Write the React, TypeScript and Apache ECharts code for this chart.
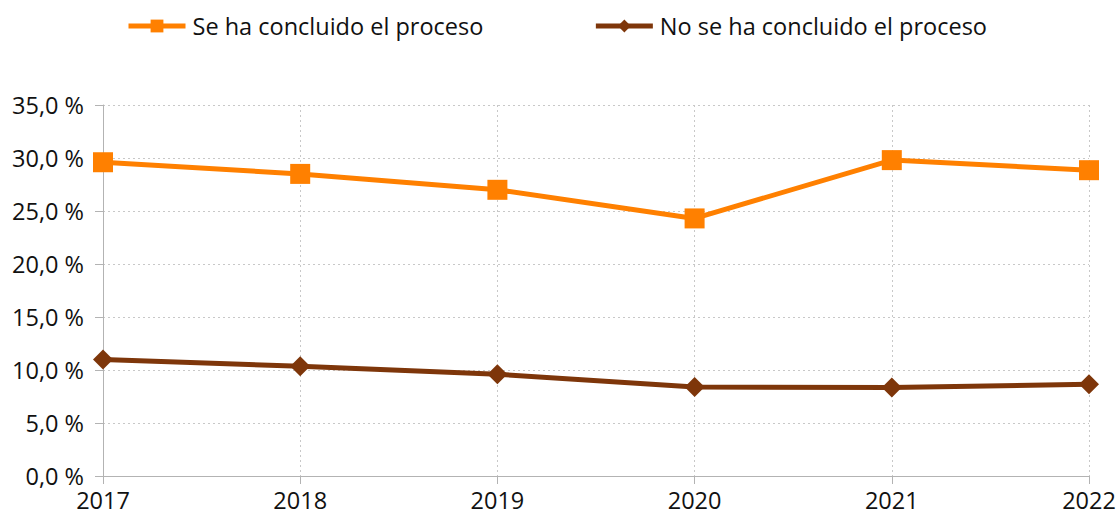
import React, { useEffect, useRef } from "react";
import * as echarts from "echarts";

const years = ["2017", "2018", "2019", "2020", "2021", "2022"];
const concluido = [29.6, 28.5, 27.0, 24.3, 29.8, 28.85];
const noConcluido = [11.0, 10.35, 9.6, 8.4, 8.35, 8.65];
const seriesNames = ["Se ha concluido el proceso", "No se ha concluido el proceso"];

const FONT = "'Open Sans', 'Noto Sans', sans-serif";

export default function App() {
  const ref = useRef<HTMLDivElement>(null);
  useEffect(() => {
    const chart = echarts.init(ref.current!, null, { renderer: "svg" });
    chart.setOption({
      animation: false,
      textStyle: { fontFamily: FONT },
      legend: {
        top: 9,
        left: 121,
        itemWidth: 57,
        itemHeight: 16,
        itemGap: 110,
        lineStyle: { width: 5 },
        textStyle: { fontSize: 23.5, color: "#111", fontFamily: FONT, padding: [0, 0, 0, 2] },
        data: seriesNames,
      },
      grid: { left: 103, right: 30, top: 105, bottom: 41, containLabel: false },
      xAxis: {
        type: "category",
        data: years,
        boundaryGap: false,
        axisLine: { lineStyle: { color: "#b3b3b3", width: 1 } },
        axisTick: { show: true, length: 8, lineStyle: { color: "#b3b3b3" } },
        axisLabel: { fontSize: 23.5, color: "#111", margin: 12, fontFamily: FONT },
        splitLine: { show: true, lineStyle: { color: "#c8c8c8", type: [2, 3] } },
      },
      yAxis: {
        type: "value",
        min: 0,
        max: 35,
        interval: 5,
        axisLine: { show: true, lineStyle: { color: "#b3b3b3", width: 1 } },
        axisTick: { show: true, length: 8, lineStyle: { color: "#b3b3b3" } },
        axisLabel: {
          fontSize: 23.5,
          color: "#111",
          margin: 19,
          fontFamily: FONT,
          formatter: (v: number) => v.toFixed(1).replace(".", ",") + " %",
        },
        splitLine: { show: true, lineStyle: { color: "#c8c8c8", type: [2, 3] } },
      },
      series: [
        {
          name: seriesNames[0],
          type: "line",
          data: concluido,
          symbol: "rect",
          symbolSize: 20,
          lineStyle: { width: 5, color: "#ff8000" },
          itemStyle: { color: "#ff8000" },
        },
        {
          name: seriesNames[1],
          type: "line",
          data: noConcluido,
          symbol: "diamond",
          symbolSize: 20,
          lineStyle: { width: 5, color: "#7e360a" },
          itemStyle: { color: "#7e360a" },
        },
      ],
    });
    return () => chart.dispose();
  }, []);
  return <div ref={ref} style={{ width: 1119, height: 517, position: "absolute", left: 0, top: 0 }} />;
}
